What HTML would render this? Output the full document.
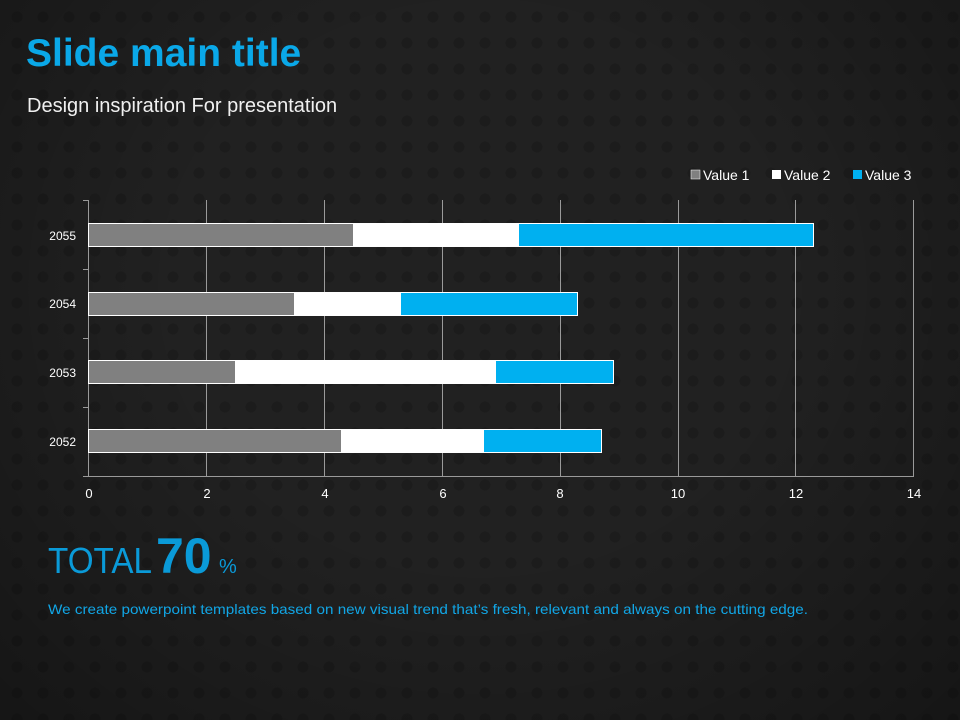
<!DOCTYPE html>
<html><head><meta charset="utf-8"><style>
body{margin:0;width:960px;height:720px;overflow:hidden;font-family:"Liberation Sans",sans-serif;}
#bg{position:absolute;left:0;top:0;width:960px;height:720px;background-color:#212121;
background-image:radial-gradient(ellipse at 50% 40%,rgba(0,0,0,0) 45%,rgba(0,0,0,0.35) 100%),radial-gradient(circle,#1c1c1c 0,#1c1c1c 5px,rgba(0,0,0,0) 6px);
background-size:960px 720px,26px 26px;background-position:0 0,4px 4px;}
.t{position:absolute;white-space:nowrap;}
</style></head><body>
<div id="bg"></div>
<div class="t" style="left:26px;top:32px;font-size:39px;font-weight:bold;color:#0aa8e8;">Slide main title</div>
<div class="t" style="left:27px;top:95px;font-size:20px;color:#f0f0f0;">Design inspiration For presentation</div>
<svg style="position:absolute;left:0;top:0" width="960" height="720">
<g font-family="Liberation Sans" font-size="14" fill="#fff">
<rect x="691" y="170" width="9" height="9" fill="#808080" stroke="#fff" stroke-width="0.5"/><text x="703" y="180">Value 1</text>
<rect x="772" y="170" width="9" height="9" fill="#fff"/><text x="784" y="180">Value 2</text>
<rect x="853" y="170" width="9" height="9" fill="#00b0f0"/><text x="865" y="180">Value 3</text>
</g>
<g stroke="#9a9a9a" stroke-width="1">
<line x1="206.5" y1="200" x2="206.5" y2="476"/><line x1="324.5" y1="200" x2="324.5" y2="476"/>
<line x1="442.5" y1="200" x2="442.5" y2="476"/><line x1="560.5" y1="200" x2="560.5" y2="476"/>
<line x1="678.5" y1="200" x2="678.5" y2="476"/><line x1="795.5" y1="200" x2="795.5" y2="476"/>
<line x1="913.5" y1="200" x2="913.5" y2="476"/>
<line x1="88.5" y1="200" x2="88.5" y2="476"/><line x1="88" y1="476.5" x2="914" y2="476.5"/>
<line x1="83" y1="200.5" x2="88" y2="200.5"/><line x1="83" y1="269.5" x2="88" y2="269.5"/>
<line x1="83" y1="338.5" x2="88" y2="338.5"/><line x1="83" y1="407.5" x2="88" y2="407.5"/>
<line x1="83" y1="476.5" x2="88" y2="476.5"/>
</g>
<g stroke="#fff" stroke-width="1">
<rect x="88.5" y="223.5" width="265" height="23" fill="#808080"/><rect x="353.5" y="223.5" width="165" height="23" fill="#fff"/><rect x="518.5" y="223.5" width="295" height="23" fill="#00b0f0"/>
<rect x="88.5" y="292.5" width="206" height="23" fill="#808080"/><rect x="294.5" y="292.5" width="106" height="23" fill="#fff"/><rect x="400.5" y="292.5" width="177" height="23" fill="#00b0f0"/>
<rect x="88.5" y="360.5" width="147" height="23" fill="#808080"/><rect x="235.5" y="360.5" width="260" height="23" fill="#fff"/><rect x="495.5" y="360.5" width="118" height="23" fill="#00b0f0"/>
<rect x="88.5" y="429.5" width="253" height="23" fill="#808080"/><rect x="341.5" y="429.5" width="142" height="23" fill="#fff"/><rect x="483.5" y="429.5" width="118" height="23" fill="#00b0f0"/>
</g>
<g font-family="Liberation Sans" font-size="12" fill="#fff" text-anchor="end">
<text x="76" y="240">2055</text><text x="76" y="308">2054</text><text x="76" y="377">2053</text><text x="76" y="446">2052</text>
</g>
<g font-family="Liberation Sans" font-size="13" fill="#fff" text-anchor="middle">
<text x="89" y="498">0</text><text x="207" y="498">2</text><text x="325" y="498">4</text><text x="443" y="498">6</text>
<text x="560" y="498">8</text><text x="678" y="498">10</text><text x="796" y="498">12</text><text x="914" y="498">14</text>
</g>
<g font-family="Liberation Sans" fill="#0a9ad8">
<text x="48" y="573" font-size="36" textLength="104" lengthAdjust="spacingAndGlyphs">TOTAL</text>
<text x="156" y="573" font-size="50" font-weight="bold">70</text>
<text x="219" y="573" font-size="20">%</text>
</g>
<text x="48" y="614" font-family="Liberation Sans" font-size="14" fill="#11a6e6" textLength="760" lengthAdjust="spacingAndGlyphs">We create powerpoint templates based on new visual trend that’s fresh, relevant and always on the cutting edge.</text>
</svg>
</body></html>
